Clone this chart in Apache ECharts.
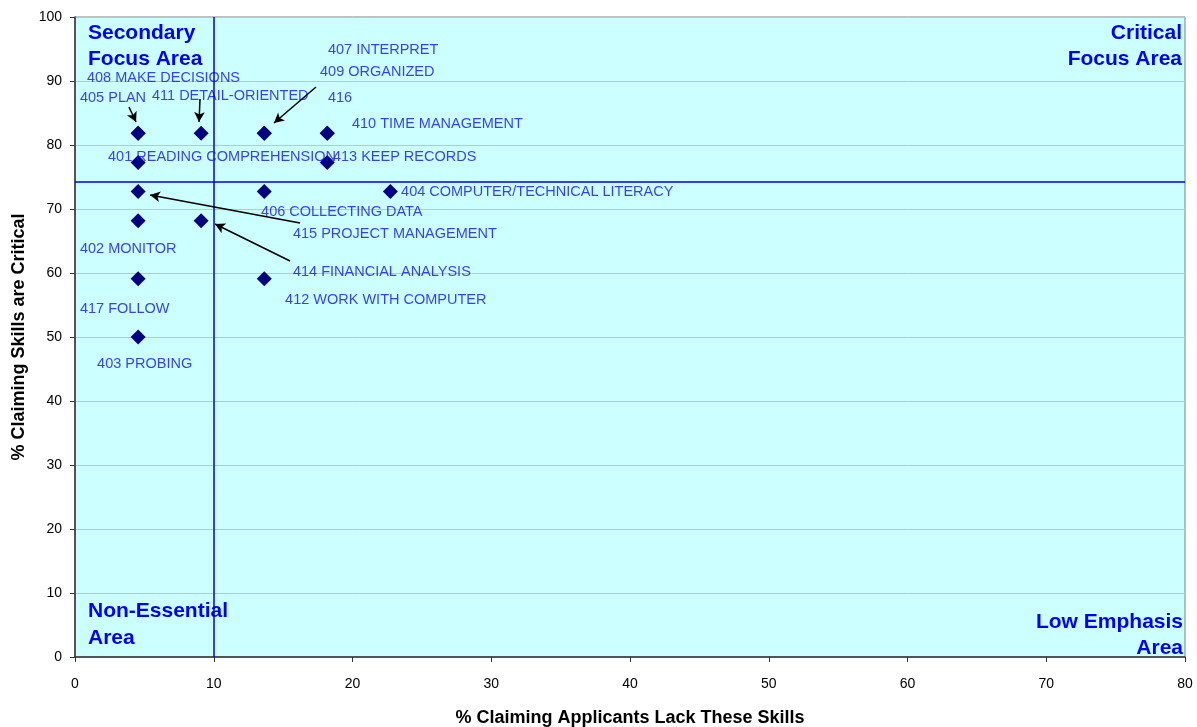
<!DOCTYPE html>
<html>
<head>
<meta charset="utf-8">
<script src="https://cdn.jsdelivr.net/npm/echarts@6/dist/echarts.min.js"></script>
<style>html,body{margin:0;padding:0;background:#fff}#c{width:1197px;height:727px}</style>
</head>
<body>
<div id="c"></div>
<script>
// Skill codes / names
const skillNames = [
  '401 READING COMPREHENSION','402 MONITOR','403 PROBING','404 COMPUTER/TECHNICAL LITERACY',
  '405 PLAN','406 COLLECTING DATA','407 INTERPRET','408 MAKE DECISIONS','409 ORGANIZED',
  '410 TIME MANAGEMENT','411 DETAIL-ORIENTED','412 WORK WITH COMPUTER','413 KEEP RECORDS',
  '414 FINANCIAL ANALYSIS','415 PROJECT MANAGEMENT','416','417 FOLLOW'
];
// % claiming applicants lack these skills
const lackPct = [4.55,4.55,4.55,22.73,4.55,13.64,13.64,4.55,13.64,18.18,9.09,13.64,18.18,9.09,4.55,18.18,4.55];
// % claiming skills are critical
const criticalPct = [77.27,68.18,50.0,72.73,81.82,72.73,81.82,81.82,81.82,81.82,81.82,59.09,77.27,68.18,72.73,81.82,59.09];
// label anchor positions (data space, left-middle of text)
const labelX = [2.38,0.36,1.59,23.5,0.36,13.41,18.23,0.86,17.66,19.96,5.55,15.14,18.59,15.71,15.71,18.23,0.36];
const labelY = [78.13,63.75,45.78,72.66,87.34,69.53,94.84,90.47,91.41,83.28,87.66,55.78,78.13,60.16,66.09,87.34,54.38];
// Arrows: [fromX, fromY, toX, toY]
const arrows = [
  [3.89,85.94,4.40,83.59],
  [9.01,87.19,8.94,83.59],
  [17.37,89.06,14.34,83.44],
  [16.22,67.81,5.41,72.19],
  [15.50,61.88,10.09,67.66]
];
// Quadrant dividers
const dividerX = 10;
const dividerY = 74.2;

const xTicks = [0,10,20,30,40,50,60,70,80];
const yTicks = [0,10,20,30,40,50,60,70,80,90,100];

const FONT = 'Arial, "Liberation Sans", sans-serif';
const chart = echarts.init(document.getElementById('c'), null, {renderer:'canvas'});

const points = lackPct.map((x,i)=>[x, criticalPct[i]]);
const labels = labelX.map((x,i)=>({value:[x,labelY[i]], name:skillNames[i]}));

const qStyle = (t)=>({text:t, font:'bold 21px '+FONT, fill:'#0000ff'});

chart.setOption({
  animation:false,
  backgroundColor:'#ffffff',
  grid:{left:75, right:12, top:17, bottom:70, show:true, backgroundColor:'#CCFFFF', borderColor:'#808080', borderWidth:1,
        containLabel:false, outerBoundsMode:'none'},
  xAxis:{
    type:'value', min:xTicks[0], max:xTicks[xTicks.length-1], interval:10,
    name:'% Claiming Applicants Lack These Skills', nameLocation:'middle', nameGap:52,
    nameTextStyle:{fontFamily:FONT, fontWeight:'bold', fontSize:18, color:'#000'},
    axisLine:{show:true, onZero:false, lineStyle:{color:'#333', width:1.5}},
    axisTick:{show:true, inside:false, length:5, lineStyle:{color:'#333'}},
    axisLabel:{fontFamily:FONT, fontSize:14, color:'#000', margin:20},
    splitLine:{show:false}
  },
  yAxis:{
    type:'value', min:yTicks[0], max:yTicks[yTicks.length-1], interval:10,
    name:'% Claiming Skills are Critical', nameLocation:'middle', nameGap:45, nameRotate:90,
    nameTextStyle:{fontFamily:FONT, fontWeight:'bold', fontSize:18, color:'#000'},
    axisLine:{show:true, onZero:false, lineStyle:{color:'#333', width:1.5}},
    axisTick:{show:true, inside:false, length:5, lineStyle:{color:'#333'}},
    axisLabel:{fontFamily:FONT, fontSize:14, color:'#000', margin:13},
    splitLine:{show:true, lineStyle:{color:'#A6CAF0', width:1}}
  },
  series:[
    {
      type:'line', data:[], silent:true,
      markLine:{
        silent:true, symbol:['none','none'], animation:false,
        label:{show:false},
        lineStyle:{color:'#0000E6', width:1.5, type:'solid'},
        data:[{xAxis:dividerX},{yAxis:dividerY}]
      }
    },
    {
      type:'scatter', symbol:'diamond', symbolSize:15, data:points, z:3,
      itemStyle:{color:'#000080', opacity:1},
      markLine:{
        silent:true, symbol:['none','arrow'], symbolSize:[8,10], animation:false,
        label:{show:false},
        lineStyle:{color:'#000000', width:1.5, type:'solid'},
        data: arrows.map(a=>[{coord:[a[0],a[1]]},{coord:[a[2],a[3]]}])
      }
    },
    {
      type:'scatter', symbolSize:0, data:labels, z:4, silent:true,
      label:{show:true, position:'right', distance:0, formatter:p=>p.name,
        fontFamily:FONT, fontSize:14.5, color:'#1010e8', align:'left', verticalAlign:'middle'}
    }
  ],
  graphic:[
    {type:'text', left:88, top:23, style:qStyle('Secondary')},
    {type:'text', left:88, top:49, style:qStyle('Focus Area')},
    {type:'text', right:15, top:23, style:qStyle('Critical')},
    {type:'text', right:15, top:49, style:qStyle('Focus Area')},
    {type:'text', left:88, top:601, style:qStyle('Non-Essential')},
    {type:'text', left:88, top:628, style:qStyle('Area')},
    {type:'text', right:14, top:612, style:qStyle('Low Emphasis')},
    {type:'text', right:14, top:638, style:qStyle('Area')}
  ]
});
</script>
</body>
</html>
